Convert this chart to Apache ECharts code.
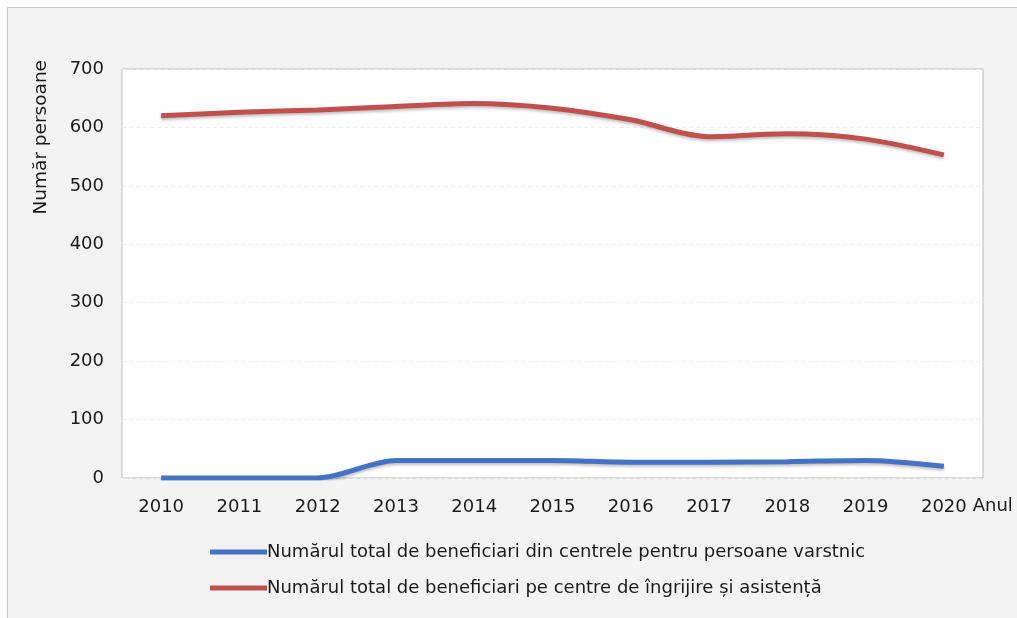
<!DOCTYPE html>
<html><head><meta charset="utf-8">
<script src="https://cdn.jsdelivr.net/npm/echarts@6/dist/echarts.min.js"></script>
<style>
html,body{margin:0;padding:0;background:#fff;overflow:hidden;}
#frame{position:absolute;left:7px;top:7px;width:1010px;height:611px;background:#f3f3f3;border-left:1px solid #c8c8c8;border-top:1px solid #c8c8c8;box-sizing:border-box;}
#c{position:absolute;left:0;top:0;width:1017px;height:618px;}
</style></head>
<body>
<div id="frame"></div>
<div id="c"></div>
<script>
const years = ['2010','2011','2012','2013','2014','2015','2016','2017','2018','2019','2020'];
const varstnici = [0, 0, 0, 30, 30, 30, 27, 27, 28, 30, 20];
const ingrijire = [620, 626, 630, 636, 641, 633, 613, 584, 589, 580, 553];
const seriesNames = ['Numărul total de beneficiari din centrele pentru persoane varstnic',
                     'Numărul total de beneficiari pe centre de îngrijire și asistență'];
const yTicks = {min: 0, max: 700, interval: 100};

const font = '"DejaVu Sans", sans-serif';
const chart = echarts.init(document.getElementById('c'), null, {renderer: 'canvas'});
chart.setOption({
  backgroundColor: 'transparent',
  animation: false,
  grid: {left: 122, right: 34, top: 69, bottom: 140, containLabel: false, outerBoundsMode: 'none',
         show: true, borderColor: '#bcbcbc', borderWidth: 1, backgroundColor: '#ffffff'},
  xAxis: {
    type: 'category', data: years, boundaryGap: true,
    name: 'Anul', nameLocation: 'end', nameGap: -16,
    nameTextStyle: {fontFamily: font, fontSize: 18, color: '#1a1a1a', align: 'left', verticalAlign: 'top', padding: [19, 0, 0, 0]},
    axisLine: {show: false}, axisTick: {show: false},
    axisLabel: {fontFamily: font, fontSize: 18, color: '#1a1a1a', margin: 20}
  },
  yAxis: {
    type: 'value', min: yTicks.min, max: yTicks.max, interval: yTicks.interval,
    axisLine: {show: false}, axisTick: {show: false},
    axisLabel: {fontFamily: font, fontSize: 18, color: '#1a1a1a', margin: 18},
    splitLine: {show: true, lineStyle: {color: '#ececec', type: [4, 3], width: 1}}
  },
  legend: {
    orient: 'vertical', left: 205, top: 538, itemGap: 18,
    itemWidth: 57, itemHeight: 5,
    textStyle: {fontFamily: font, fontSize: 18, color: '#1a1a1a', padding: [0, 0, 0, -5]},
    data: [
      {name: seriesNames[0], icon: 'rect'},
      {name: seriesNames[1], icon: 'rect'}
    ]
  },
  graphic: [{
    type: 'text', left: 32, top: 60, rotation: Math.PI / 2,
    style: {text: 'Număr persoane', font: '18.5px ' + font, fill: '#1a1a1a'}
  }],
  series: [
    {name: seriesNames[0], type: 'line', data: varstnici, smooth: 0.3, symbol: 'none',
     lineStyle: {width: 5, color: '#4472c4', shadowColor: 'rgba(0,0,0,0.25)', shadowBlur: 3, shadowOffsetY: 2},
     itemStyle: {color: '#4472c4'}},
    {name: seriesNames[1], type: 'line', data: ingrijire, smooth: 0.3, symbol: 'none',
     lineStyle: {width: 5, color: '#c0504d', shadowColor: 'rgba(0,0,0,0.25)', shadowBlur: 3, shadowOffsetY: 2},
     itemStyle: {color: '#c0504d'}}
  ]
});
</script>
</body></html>
